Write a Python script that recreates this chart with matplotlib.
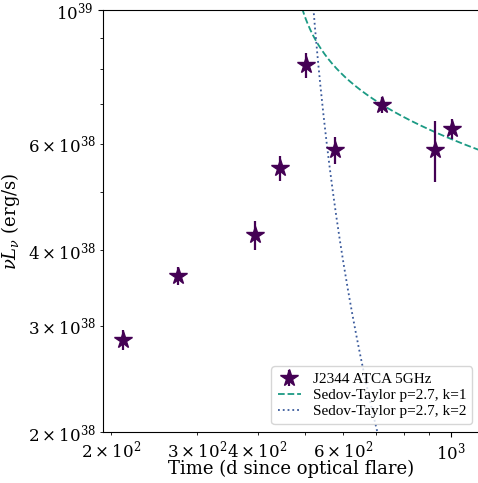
import numpy as np
import matplotlib
matplotlib.use('Agg')
import matplotlib.pyplot as plt

plt.rcParams['font.family'] = 'DejaVu Serif'
plt.rcParams['mathtext.fontset'] = 'dejavuserif'

# J2344 ATCA 5 GHz observations
t_obs = [212, 274, 395, 445, 503, 577, 721, 925, 1004]
L_obs = [2.84e38, 3.63e38, 4.24e38, 5.47e38, 8.11e38, 5.86e38, 6.96e38, 5.86e38, 6.35e38]
L_err = [0.11e38, 0.125e38, 0.23e38, 0.26e38, 0.38e38, 0.30e38, 0.21e38, 0.68e38, 0.24e38]

# Sedov-Taylor model parameters (p=2.7), t0 = launch time in days
t0 = 460.0
st_models = [
    # label, log10 norm, decline index, colour, linestyle
    ('Sedov-Taylor p=2.7, k=1', 39.278, 0.18, '#1b9a84', '--'),
    ('Sedov-Taylor p=2.7, k=2', 41.0717, 1.16, '#3a5a9c', ':'),
]

fig = plt.figure(figsize=(4.78, 4.83), dpi=100)
ax = fig.add_axes([103 / 478, 51 / 483, 377 / 478, 422 / 483])

h_obs = ax.errorbar(t_obs, L_obs, yerr=L_err, fmt='*', color='#440154', ms=13,
                    elinewidth=1.6, capsize=0, label='J2344 ATCA 5GHz', zorder=3)

t_mod = np.logspace(np.log10(t0 + 1), np.log10(2000), 600)
handles = [h_obs]
for label, lognorm, beta, col, ls in st_models:
    L_mod = 10 ** (lognorm - beta * np.log10(t_mod - t0))
    ln, = ax.plot(t_mod, L_mod, ls=ls, color=col, lw=1.3, label=label)
    handles.append(ln)

ax.set_xscale('log')
ax.set_yscale('log')
ax.set_xlim(192.6, 1145)
ax.set_ylim(2e38, 1e39)
ax.tick_params(labelsize=12)
ax.tick_params(which='minor', labelsize=12)

ax.set_xlabel('Time (d since optical flare)', fontsize=13, labelpad=-2.5)
ax.set_ylabel(r'$\nu L_\nu$ (erg/s)', fontsize=13)

leg = ax.legend(handles=handles, loc='lower right',
                prop={'family': 'Liberation Serif', 'size': 11},
                handlelength=1.5, handletextpad=0.8, labelspacing=0.15,
                borderpad=0.4)

fig.savefig('out.png', dpi=100)
